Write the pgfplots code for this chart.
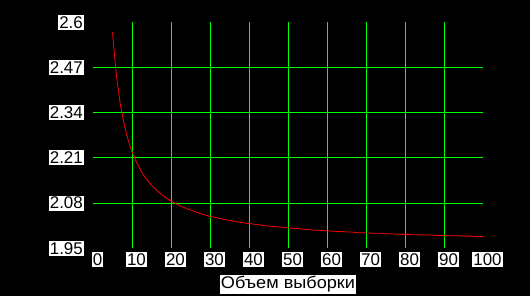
\documentclass[border=0pt]{standalone}
\usepackage{fontspec}
\setmainfont{Liberation Sans}
\usepackage{graphicx}
\usepackage{pgfplots}
\pgfplotsset{compat=1.18}
\definecolor{gridgreen}{RGB}{0,255,0}
\begin{document}
\begin{tikzpicture}
\fill[black] (0,0) rectangle (530bp,296bp);
\begin{axis}[
  at={(93bp,47.7bp)}, anchor=south west,
  scale only axis, width=390bp, height=226bp,
  xmin=0, xmax=100, ymin=1.95, ymax=2.6,
  axis line style={draw=none},
  major tick length=0pt,
  xtick={10,20,30,40,50,60,70,80,90},
  xticklabels={10,20,30,40,50,60,70,80,90},
  extra x ticks={0,100},
  extra x tick labels={0,100},
  ytick={2.08,2.21,2.34,2.47},
  yticklabels={2.08,2.21,2.34,2.47},
  extra y ticks={1.95,2.6},
  extra y tick labels={1.95,2.6},
  extra tick style={grid=none},
  grid=major,
  major grid style={draw=gridgreen, line width=1bp},
  ticklabel style={font=\fontsize{17}{17}\selectfont, fill=white, text=black, inner xsep=1bp, inner ysep=1.5bp},
  xticklabel style={anchor=north, xshift=4.5bp, yshift=-4bp},
  yticklabel style={anchor=east, xshift=-9bp},
  xlabel={\scalebox{1.07}[1]{Объем выборки}},
  xlabel style={font=\fontsize{17}{17}\selectfont, fill=white, text=black, inner xsep=1bp, inner ysep=1.5bp, anchor=north, at={(axis description cs:0.5,0)}, yshift=-26.5bp},
]
\addplot[color=red, line width=0.8bp] coordinates {
(5,2.571)(6,2.447)(7,2.365)(8,2.306)(9,2.262)(10,2.228)(11,2.201)(12,2.179)(13,2.160)(14,2.145)
(15,2.131)(16,2.120)(17,2.110)(18,2.101)(19,2.093)(20,2.086)(21,2.080)(22,2.074)(23,2.069)(24,2.064)
(25,2.060)(26,2.056)(27,2.052)(28,2.048)(29,2.045)(30,2.042)(31,2.040)(32,2.037)(33,2.035)(34,2.032)
(35,2.030)(36,2.028)(37,2.026)(38,2.024)(39,2.023)(40,2.021)(41,2.020)(42,2.018)(43,2.017)(44,2.015)
(45,2.014)(46,2.013)(47,2.012)(48,2.011)(49,2.010)(50,2.009)(51,2.008)(52,2.007)(53,2.006)(54,2.005)
(55,2.004)(56,2.003)(57,2.002)(58,2.002)(59,2.001)(60,2.000)(61,2.000)(62,1.999)(63,1.998)(64,1.998)
(65,1.997)(66,1.997)(67,1.996)(68,1.995)(69,1.995)(70,1.994)(71,1.994)(72,1.993)(73,1.993)(74,1.993)
(75,1.992)(76,1.992)(77,1.991)(78,1.991)(79,1.990)(80,1.990)(81,1.990)(82,1.989)(83,1.989)(84,1.989)
(85,1.988)(86,1.988)(87,1.988)(88,1.987)(89,1.987)(90,1.987)(91,1.986)(92,1.986)(93,1.986)(94,1.986)
(95,1.985)(96,1.985)(97,1.985)(98,1.984)(99,1.984)(100,1.984)
};
\end{axis}
\pgfresetboundingbox
\path (0,0) rectangle (530bp,296bp);
\end{tikzpicture}
\end{document}
